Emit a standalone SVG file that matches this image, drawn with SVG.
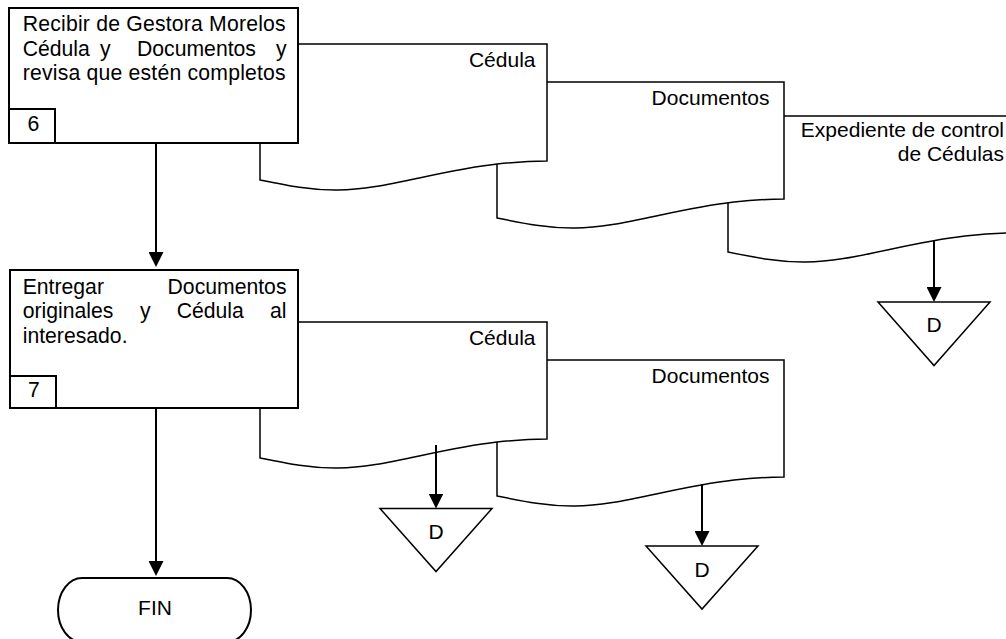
<svg xmlns="http://www.w3.org/2000/svg" xmlns:xlink="http://www.w3.org/1999/xlink" width="1006" height="639" viewBox="0 0 1006 639">
  <style>
    text { font-family: "Liberation Sans", Arial, sans-serif; fill: #000; }
    .box { fill: #fff; stroke: #000; stroke-width: 2; }
    .num { fill: #fff; stroke: #000; stroke-width: 2; }
    .doc { fill: #fff; stroke: #000; stroke-width: 1.5; stroke-linejoin: miter; }
    .tri { fill: #fff; stroke: #000; stroke-width: 1.5; }
    .term { fill: #fff; stroke: #000; stroke-width: 2; }
    .conn { fill: none; stroke: #000; stroke-width: 2; }
    .t { font-size: 21.2px; }
    .lbl { font-size: 21px; text-anchor: end; }
    .mid { font-size: 21px; text-anchor: middle; }
  </style>
  <defs>
    <!-- document symbol with wavy bottom edge, 287 wide -->
    <path id="docShape" class="doc" d="M0,0 H287 V117 C270,117 255,118 237,120 C175,127 120,147 75,146 C50,146 30,142 0,136 Z"/>
    <marker id="arrow" markerUnits="userSpaceOnUse" markerWidth="15" markerHeight="15" refX="13" refY="7.5" orient="auto">
      <path d="M0,0 L15,7.5 L0,15 Z" fill="#000"/>
    </marker>
  </defs>
  <rect width="1006" height="639" fill="#fff"/>

  <!-- documents produced by step 6 (back to front) -->
  <g id="doc-expediente">
    <use xlink:href="#docShape" x="728" y="116"/>
    <text class="lbl" x="1004" y="137">Expediente de control</text>
    <text class="lbl" x="1004" y="161">de Cédulas</text>
  </g>
  <g id="doc-documentos-1">
    <use xlink:href="#docShape" x="497" y="82"/>
    <text class="lbl" x="769.5" y="105">Documentos</text>
  </g>
  <g id="doc-cedula-1">
    <use xlink:href="#docShape" x="260" y="44"/>
    <text class="lbl" x="535.5" y="67">Cédula</text>
  </g>

  <!-- step 6 -->
  <g id="step6">
    <rect class="box" x="9" y="8" width="289" height="135"/>
    <text class="t" x="22.7" y="31" textLength="263" lengthAdjust="spacing">Recibir de Gestora Morelos</text>
    <text class="t" x="22.7" y="55.5">Cédula</text>
    <text class="t" x="100" y="55.5">y</text>
    <text class="t" x="137" y="55.5">Documentos</text>
    <text class="t" x="286.5" y="55.5" text-anchor="end">y</text>
    <text class="t" x="22.7" y="80" textLength="263" lengthAdjust="spacing">revisa que estén completos</text>
    <rect class="num" x="9" y="109" width="46" height="34"/>
    <text class="t" x="27.5" y="130.5">6</text>
  </g>

  <!-- documents handed over in step 7 (back to front) -->
  <g id="doc-documentos-2">
    <use xlink:href="#docShape" x="497" y="360"/>
    <text class="lbl" x="769.5" y="383">Documentos</text>
  </g>
  <g id="doc-cedula-2">
    <use xlink:href="#docShape" x="260" y="322"/>
    <text class="lbl" x="535.5" y="345">Cédula</text>
  </g>

  <!-- step 7 -->
  <g id="step7">
    <rect class="box" x="10" y="270" width="288" height="138"/>
    <text class="t" x="22.7" y="293.5">Entregar</text>
    <text class="t" x="286.5" y="293.5" text-anchor="end">Documentos</text>
    <text class="t" x="22.7" y="318">originales</text>
    <text class="t" x="140" y="318">y</text>
    <text class="t" x="176.7" y="318">Cédula</text>
    <text class="t" x="286.5" y="318" text-anchor="end">al</text>
    <text class="t" x="22.7" y="342.5">interesado.</text>
    <rect class="num" x="10" y="376" width="46" height="32"/>
    <text class="t" x="28" y="397">7</text>
  </g>

  <!-- file (D) symbols -->
  <g id="file-expediente">
    <polygon class="tri" points="878,302 990,302 934,365.5"/>
    <text class="mid" x="934" y="332">D</text>
  </g>
  <g id="file-cedula">
    <polygon class="tri" points="380,508.5 492,508.5 436,571.5"/>
    <text class="mid" x="436" y="539">D</text>
  </g>
  <g id="file-documentos">
    <polygon class="tri" points="646,546 758,546 702,609"/>
    <text class="mid" x="702" y="577">D</text>
  </g>

  <!-- end terminator (runs slightly past the bottom edge) -->
  <g id="fin">
    <rect class="term" x="58" y="578" width="193" height="64" rx="24" ry="32"/>
    <text class="mid" x="155" y="615">FIN</text>
  </g>

  <!-- connectors -->
  <g id="connectors">
    <line class="conn" x1="156" y1="143" x2="156" y2="265" marker-end="url(#arrow)"/>
    <line class="conn" x1="156" y1="408" x2="156" y2="574" marker-end="url(#arrow)"/>
    <line class="conn" x1="934" y1="241" x2="934" y2="300" marker-end="url(#arrow)"/>
    <line class="conn" x1="436" y1="445" x2="436" y2="506.5" marker-end="url(#arrow)"/>
    <line class="conn" x1="702" y1="484" x2="702" y2="544" marker-end="url(#arrow)"/>
  </g>
</svg>
